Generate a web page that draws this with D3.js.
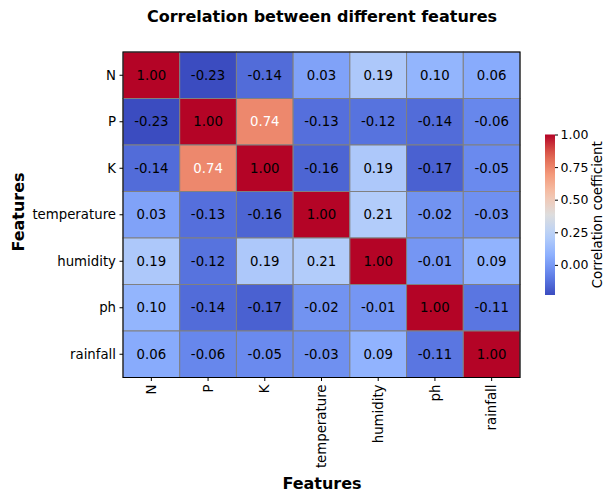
<!DOCTYPE html>
<html>
<head>
<meta charset="utf-8">
<script src="https://cdn.jsdelivr.net/npm/d3@7"></script>
<style>
  body { margin: 0; background: #fff; }
  svg { font-family: "DejaVu Sans", sans-serif; }
</style>
</head>
<body>
<svg id="chart" width="606" height="493"></svg>
<script>
// features and correlation rows
var features = ["N", "P", "K", "temperature", "humidity", "ph", "rainfall"];
var rowN = [1.00, -0.23, -0.14, 0.03, 0.19, 0.10, 0.06];
var rowP = [-0.23, 1.00, 0.74, -0.13, -0.12, -0.14, -0.06];
var rowK = [-0.14, 0.74, 1.00, -0.16, 0.19, -0.17, -0.05];
var rowTemperature = [0.03, -0.13, -0.16, 1.00, 0.21, -0.02, -0.03];
var rowHumidity = [0.19, -0.12, 0.19, 0.21, 1.00, -0.01, 0.09];
var rowPh = [0.10, -0.14, -0.17, -0.02, -0.01, 1.00, -0.11];
var rowRainfall = [0.06, -0.06, -0.05, -0.03, 0.09, -0.11, 1.00];
var colorbarTicks = [0.00, 0.25, 0.50, 0.75, 1.00];

var rows = [rowN, rowP, rowK, rowTemperature, rowHumidity, rowPh, rowRainfall];
var vmin = -0.231, vmax = 1.00;

var cells = [];
rows.forEach(function (r, i) {
    r.forEach(function (v, j) {
        cells.push({ row: features[i], col: features[j], value: v });
    });
});

// coolwarm colormap
var coolwarm = d3.piecewise(d3.interpolateRgb, [
    "rgb(59,76,192)", "rgb(98,130,234)", "rgb(141,176,254)", "rgb(184,208,249)",
    "rgb(221,221,221)", "rgb(245,196,173)", "rgb(244,154,123)", "rgb(222,96,77)", "rgb(180,4,38)"
]);
var color = d3.scaleSequential(coolwarm).domain([vmin, vmax]);

var svg = d3.select("#chart");
var hmLeft = 123, hmTop = 52, hmRight = 520, hmBottom = 377.5;

var x = d3.scaleBand().domain(features).range([hmLeft, hmRight]);
var y = d3.scaleBand().domain(features).range([hmTop, hmBottom]);

svg.append("text")
    .attr("x", 322).attr("y", 22)
    .attr("text-anchor", "middle")
    .attr("font-size", 16).attr("font-weight", "bold")
    .text("Correlation between different features");

var g = svg.append("g");
g.selectAll("rect")
    .data(cells)
    .enter()
    .append("rect")
    .attr("x", d => x(d.col))
    .attr("y", d => y(d.row))
    .attr("width", x.bandwidth())
    .attr("height", y.bandwidth())
    .attr("fill", d => color(d.value))
    .attr("stroke", "#808080")
    .attr("stroke-width", 1);

g.selectAll("text")
    .data(cells)
    .enter()
    .append("text")
    .attr("x", d => x(d.col) + x.bandwidth() / 2)
    .attr("y", d => y(d.row) + y.bandwidth() / 2)
    .attr("dy", "0.35em")
    .attr("text-anchor", "middle")
    .attr("font-size", 13.3)
    .attr("fill", d => (d.value > 0.5 && d.value < 0.9) ? "#fff" : "#000")
    .text(d => d.value.toFixed(2));

svg.append("rect")
    .attr("x", hmLeft).attr("y", hmTop)
    .attr("width", hmRight - hmLeft).attr("height", hmBottom - hmTop)
    .attr("fill", "none").attr("stroke", "#000").attr("stroke-width", 1);

var yAxis = svg.append("g")
    .attr("transform", `translate(${hmLeft},0)`)
    .call(d3.axisLeft(y).tickSize(3.5).tickPadding(3.5));
var xAxis = svg.append("g")
    .attr("transform", `translate(0,${hmBottom})`)
    .call(d3.axisBottom(x).tickSize(3.5).tickPadding(3.5));
[xAxis, yAxis].forEach(function (a) {
    a.select(".domain").remove();
    a.selectAll("text").attr("font-size", 13.3).attr("fill", "#000").attr("font-family", "DejaVu Sans");
});
xAxis.selectAll("text")
    .attr("transform", "rotate(-90)")
    .attr("text-anchor", "end")
    .attr("x", -7).attr("y", 0).attr("dy", "0.35em");

svg.append("text")
    .attr("x", 322).attr("y", 489)
    .attr("text-anchor", "middle")
    .attr("font-size", 16).attr("font-weight", "bold")
    .text("Features");
svg.append("text")
    .attr("transform", "translate(24,212) rotate(-90)")
    .attr("text-anchor", "middle")
    .attr("font-size", 16).attr("font-weight", "bold")
    .text("Features");

// colorbar
var cbX = 545, cbW = 10, cbTop = 134.5, cbBottom = 295;
var cbScale = d3.scaleLinear().domain([vmin, vmax]).range([cbBottom, cbTop]);
var defs = svg.append("defs");
var grad = defs.append("linearGradient").attr("id", "cbgrad")
    .attr("x1", 0).attr("y1", 1).attr("x2", 0).attr("y2", 0);
d3.range(0, 1.0001, 0.05).forEach(function (t) {
    grad.append("stop").attr("offset", t).attr("stop-color", coolwarm(t));
});
svg.append("rect")
    .attr("x", cbX).attr("y", cbTop)
    .attr("width", cbW).attr("height", cbBottom - cbTop)
    .attr("fill", "url(#cbgrad)");
var cbAxis = svg.append("g")
    .attr("transform", `translate(${cbX + cbW},0)`)
    .call(d3.axisRight(cbScale).tickValues(colorbarTicks).tickFormat(d3.format(".2f")).tickSize(3).tickPadding(2.5));
cbAxis.select(".domain").remove();
cbAxis.selectAll("text").attr("font-size", 12.5).attr("fill", "#000").attr("font-family", "DejaVu Sans");

svg.append("text")
    .attr("transform", `translate(602,${(cbTop + cbBottom) / 2}) rotate(-90)`)
    .attr("text-anchor", "middle")
    .attr("font-size", 13.3)
    .text("Correlation coefficient");
</script>
</body>
</html>
